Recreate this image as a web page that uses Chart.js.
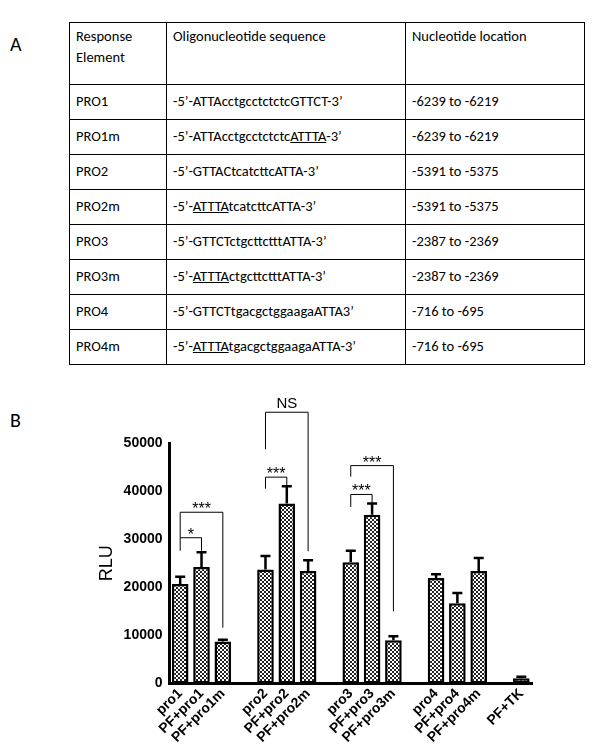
<!DOCTYPE html>
<html><head><meta charset="utf-8">
<script src="https://cdn.jsdelivr.net/npm/chart.js@4"></script>
<style>
body{margin:0;background:#fff;font-family:Calibri,Carlito,"Open Sans",sans-serif;}
.lbl{position:absolute;font-size:20px;color:#000;}
table{position:absolute;left:69px;top:22px;width:516px;border-collapse:collapse;font-size:14.5px;line-height:1.45;}
td{border:1.5px solid #000;padding:3px 6px;height:28px;vertical-align:middle;}
tr:first-child td{height:55px;vertical-align:top;}
#wrap{position:absolute;left:40px;top:395px;width:560px;height:359px;}
</style></head><body>
<div class="lbl" style="left:10px;top:32px">A</div>
<div class="lbl" style="left:10px;top:408px">B</div>
<table>
<tr><td style="width:84px">Response Element</td><td style="width:226px">Oligonucleotide sequence</td><td>Nucleotide location</td></tr>
<tr><td>PRO1</td><td>-5’-ATTAcctgcctctctcGTTCT-3’</td><td>-6239 to -6219</td></tr>
<tr><td>PRO1m</td><td>-5’-ATTAcctgcctctctc<u>ATTTA</u>-3’</td><td>-6239 to -6219</td></tr>
<tr><td>PRO2</td><td>-5’-GTTACtcatcttcATTA-3’</td><td>-5391 to -5375</td></tr>
<tr><td>PRO2m</td><td>-5’-<u>ATTTA</u>tcatcttcATTA-3’</td><td>-5391 to -5375</td></tr>
<tr><td>PRO3</td><td>-5’-GTTCTctgcttctttATTA-3’</td><td>-2387 to -2369</td></tr>
<tr><td>PRO3m</td><td>-5’-<u>ATTTA</u>ctgcttctttATTA-3’</td><td>-2387 to -2369</td></tr>
<tr><td>PRO4</td><td>-5’-GTTCTtgacgctggaagaATTA3’</td><td>-716 to -695</td></tr>
<tr><td>PRO4m</td><td>-5’-<u>ATTTA</u>tgacgctggaagaATTA-3’</td><td>-716 to -695</td></tr>
</table>
<div id="wrap"><canvas id="c"></canvas></div>
<script>
const labels = ["pro1","PF+pro1","PF+pro1m","","pro2","PF+pro2","PF+pro2m","","pro3","PF+pro3","PF+pro3m","","pro4","PF+pro4","PF+pro4m","","PF+TK"];
const means = [20700,24200,8700,null,23700,37400,23400,null,25200,35100,9000,null,21900,16700,23400,null,1100];
const errTop = [22200,27300,9100,null,26500,41000,25600,null,27600,37400,9800,null,22700,18800,26100,null,1400];
// brackets: [fromIndex, toIndex, top, leftLeg, rightLeg, text]
const brackets = [
  [0,1,30300,27600,27600,"*"],
  [0,2,35600,30300,11600,"***"],
  [4,5,42900,40500,40500,"***"],
  [4,6,56400,48700,27500,"NS"],
  [8,9,39300,36700,36700,"***"],
  [8,10,45300,43000,15000,"***"]
];
const yTicks = [0,10000,20000,30000,40000,50000];

function checker(){
  const p=document.createElement("canvas");p.width=4;p.height=4;
  const g=p.getContext("2d");g.fillStyle="#fff";g.fillRect(0,0,4,4);
  g.fillStyle="#222";g.fillRect(0,0,2,2);g.fillRect(2,2,2,2);
  return g.createPattern(p,"repeat");
}
const pat=checker();
const annot={id:"annot",afterDatasetsDraw(ch){
  const {ctx,scales:{x,y}}=ch;ctx.save();ctx.strokeStyle="#000";
  ctx.lineWidth=2.5;
  errTop.forEach((v,i)=>{if(v==null)return;const px=x.getPixelForValue(i);
    ctx.beginPath();ctx.moveTo(px,y.getPixelForValue(means[i]));ctx.lineTo(px,y.getPixelForValue(v));
    ctx.moveTo(px-5,y.getPixelForValue(v));ctx.lineTo(px+5,y.getPixelForValue(v));ctx.stroke();});
  ctx.lineWidth=1;ctx.fillStyle="#000";ctx.textAlign="center";
  brackets.forEach(([a,b,t,l,r,s])=>{const xa=x.getPixelForValue(a),xb=x.getPixelForValue(b),yt=y.getPixelForValue(t);
    ctx.beginPath();ctx.moveTo(xa,y.getPixelForValue(l));ctx.lineTo(xa,yt);ctx.lineTo(xb,yt);ctx.lineTo(xb,y.getPixelForValue(r));ctx.stroke();
    ctx.font=s=="NS"?"15px Arial":"16px Arial";
    ctx.fillText(s,(xa+xb)/2,yt-(s=="NS"?4:-2));});
  ctx.restore();}};
new Chart(document.getElementById("c"),{type:"bar",
  data:{labels,datasets:[{data:means,backgroundColor:pat,borderColor:"#000",borderWidth:2.5,categoryPercentage:1,barPercentage:0.78,borderSkipped:false}]},
  options:{responsive:true,maintainAspectRatio:false,animation:false,
    layout:{padding:{top:48,right:68,left:52,bottom:6}},
    plugins:{legend:{display:false},tooltip:{enabled:false}},
    scales:{
      y:{min:0,max:50000,afterBuildTicks:s=>{s.ticks=yTicks.map(v=>({value:v}));},
        grid:{display:false,drawTicks:true,tickLength:5,tickColor:"#000",tickWidth:2.5},
        border:{color:"#000",width:3},
        ticks:{color:"#000",font:{family:"Arial",size:14,weight:"bold"},padding:2,callback:v=>String(v)},
        title:{display:true,text:"RLU",color:"#000",font:{family:"Arial",size:18},padding:4}},
      x:{grid:{display:false,drawTicks:false},border:{color:"#000",width:3},
        ticks:{color:"#000",font:{family:"Arial",size:14,weight:"bold"},maxRotation:45,minRotation:45,autoSkip:false,padding:2}}
    }},plugins:[annot]});
</script></body></html>
